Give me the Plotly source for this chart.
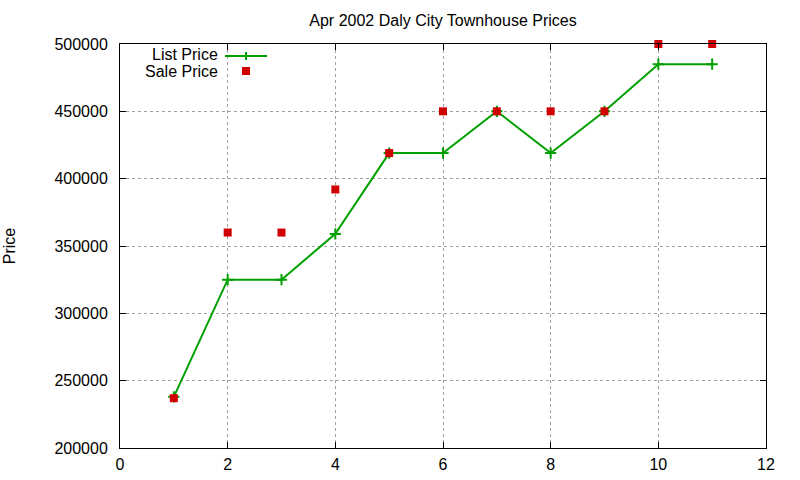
import plotly.graph_objects as go

x_vals = [1, 2, 3, 4, 5, 6, 7, 8, 9, 10, 11]
list_price = [238000, 325000, 325000, 359000, 419000, 419000, 450000, 419000, 450000, 485000, 485000]
sale_price = [237000, 360000, 360000, 392000, 419000, 450000, 450000, 450000, 450000, 500000, 500000]
x_ticks = [0, 2, 4, 6, 8, 10, 12]
y_ticks = [200000, 250000, 300000, 350000, 400000, 450000, 500000]

FONT = "Liberation Sans, Arial, sans-serif"
GREEN = "#00a000"
RED = "#d00000"

fig = go.Figure()
fig.add_trace(go.Scatter(
    x=x_vals, y=list_price, mode="lines+markers", name="List Price",
    line=dict(color=GREEN, width=2),
    marker=dict(symbol="cross-thin", size=8, line=dict(color=GREEN, width=2), color=GREEN),
    showlegend=False, cliponaxis=False,
))
fig.add_trace(go.Scatter(
    x=x_vals, y=sale_price, mode="markers", name="Sale Price",
    marker=dict(symbol="square", size=8, color=RED, line=dict(width=0)),
    showlegend=False, cliponaxis=False,
))

axis_common = dict(
    showline=True, linecolor="black", linewidth=1, mirror="allticks",
    ticks="inside", ticklen=6, tickcolor="black", tickwidth=1,
    showgrid=True, gridcolor="#a0a0a0", griddash="dot", gridwidth=1,
    zeroline=False, automargin=False, tickfont=dict(family=FONT, size=16, color="black"),
)

fig.update_xaxes(range=[0, 12], tickvals=x_ticks, ticktext=[str(v) for v in x_ticks],
                 ticklabelstandoff=2, **axis_common)
fig.update_yaxes(range=[200000, 500000], tickvals=y_ticks, ticktext=[str(v) for v in y_ticks],
                 ticklabelstandoff=8,
                 title=dict(text="Price", font=dict(family=FONT, size=16, color="black"), standoff=34),
                 **axis_common)

# Legend drawn manually (gnuplot-style: text left of sample)
fig.add_annotation(xref="paper", yref="paper", x=(219-120)/646, y=(448-54.5)/404, text="List Price",
                   showarrow=False, xanchor="right", yanchor="middle", borderpad=0,
                   font=dict(family=FONT, size=16, color="black"))
fig.add_annotation(xref="paper", yref="paper", x=(219-120)/646, y=(448-71.5)/404, text="Sale Price",
                   showarrow=False, xanchor="right", yanchor="middle", borderpad=0,
                   font=dict(family=FONT, size=16, color="black"))
fig.add_shape(type="line", xref="paper", yref="paper",
              x0=(225-120)/646, x1=(267-120)/646, y0=(448-56)/404, y1=(448-56)/404,
              line=dict(color=GREEN, width=2))
fig.add_shape(type="line", xref="paper", yref="paper",
              x0=(246-120)/646, x1=(246-120)/646, y0=(448-52)/404, y1=(448-60)/404,
              line=dict(color=GREEN, width=2))
fig.add_shape(type="rect", xref="paper", yref="paper",
              x0=(242-120)/646, x1=(250-120)/646, y0=(448-67)/404, y1=(448-75)/404,
              line=dict(width=0), fillcolor=RED)

fig.update_layout(
    width=800, height=480,
    margin=dict(l=120, r=34, t=44, b=32, autoexpand=False),
    paper_bgcolor="white", plot_bgcolor="white",
    title=dict(text="Apr 2002 Daly City Townhouse Prices", x=443/800, xanchor="center",
               y=1-20/480, yanchor="middle", font=dict(family=FONT, size=16, color="black")),
    font=dict(family=FONT, size=16, color="black"),
)

fig.write_html("out.html", config={"displayModeBar": False},
               post_script="document.body.style.margin='0px';document.body.style.padding='0px';")
